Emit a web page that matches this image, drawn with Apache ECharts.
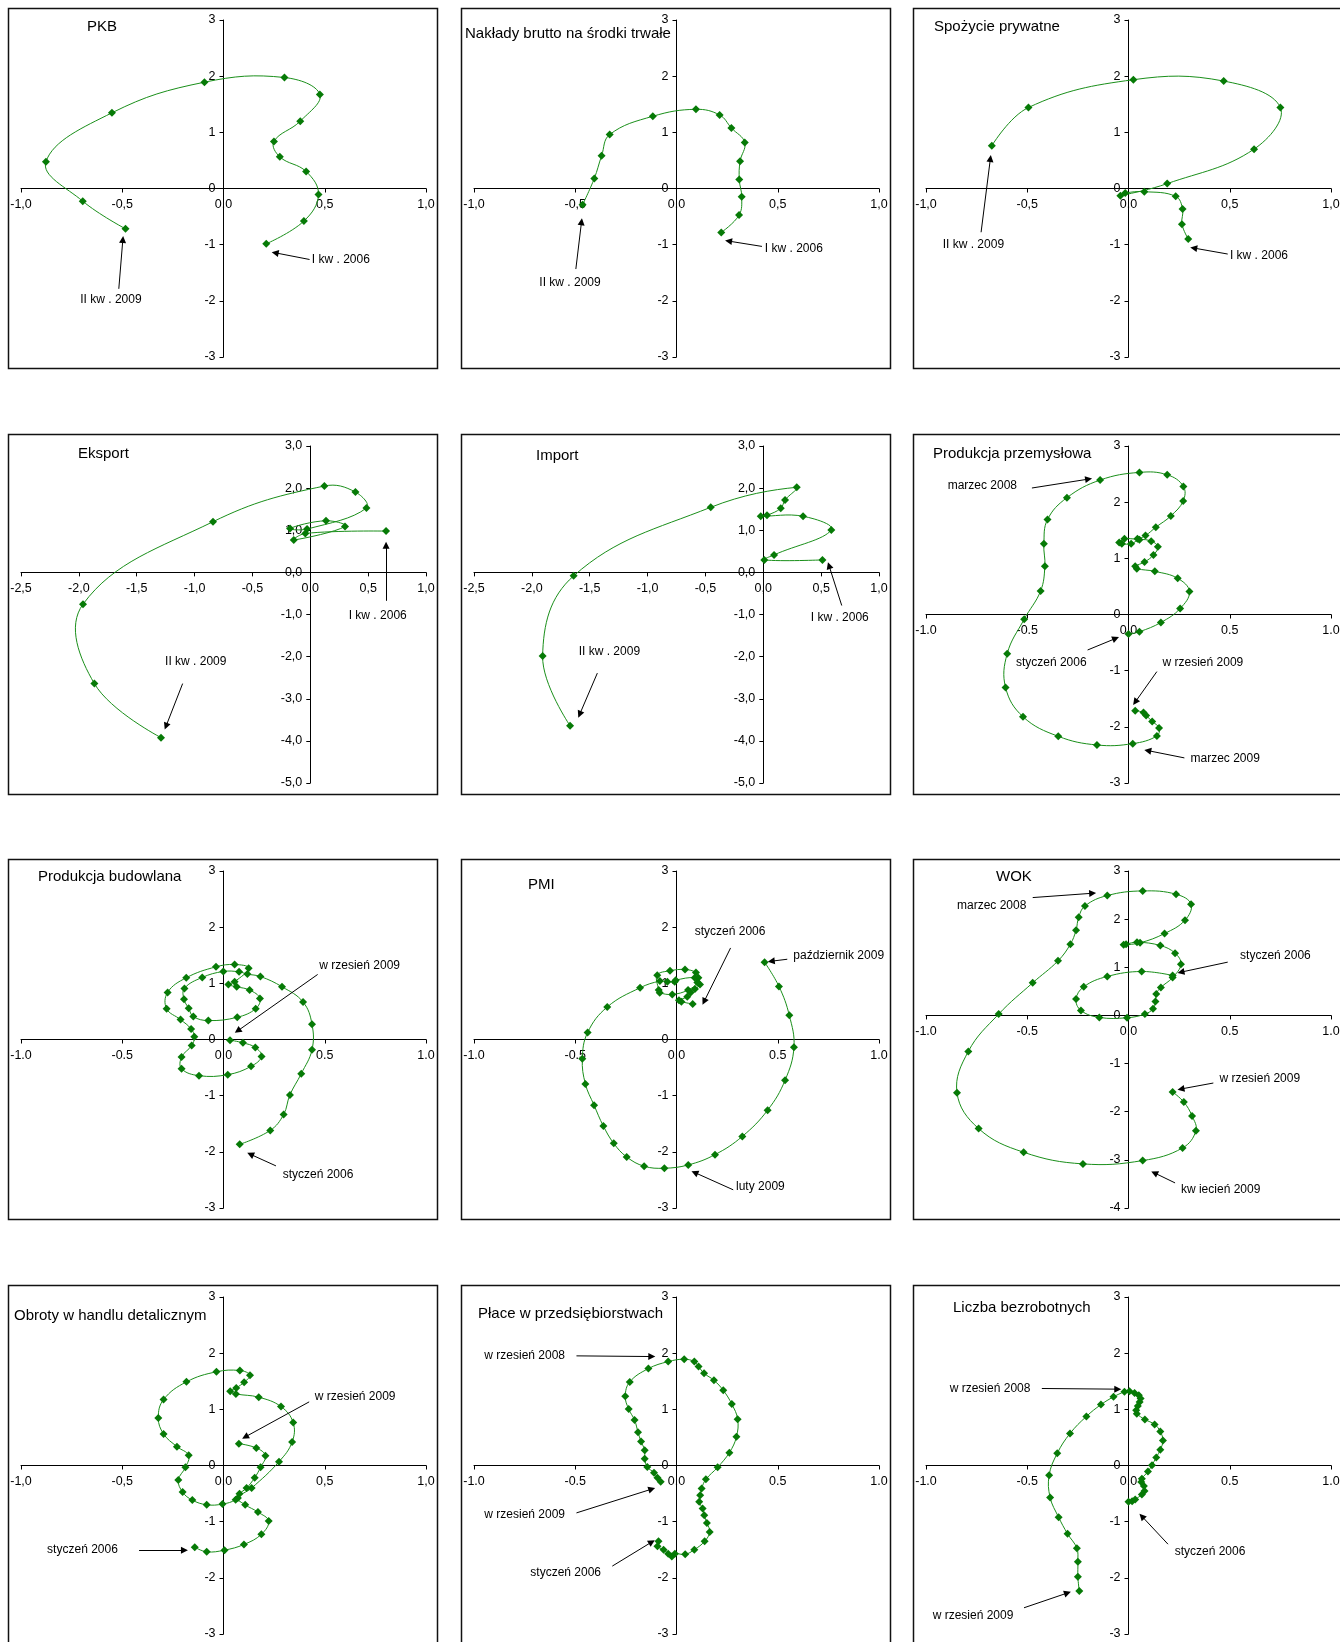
<!DOCTYPE html>
<html>
<head>
<meta charset="utf-8">
<script src="https://cdn.jsdelivr.net/npm/echarts@6/dist/echarts.min.js"></script>
<style>
  html, body { margin: 0; padding: 0; background: #fff; }
  #chart { width: 1340px; height: 1642px; }
</style>
</head>
<body>
<div id="chart"></div>
<script>
// Each series: [change of cyclical component, cyclical component], in time order.
const pkb = [[0.211,-0.985],[0.397,-0.58],[0.469,-0.107],[0.408,0.303],[0.278,0.564],[0.249,0.837],[0.379,1.199],[0.476,1.674],[0.301,1.976],[-0.094,1.893],[-0.551,1.347],[-0.877,0.475],[-0.695,-0.226],[-0.484,-0.718]];
const naklady = [[0.221,-0.782],[0.309,-0.474],[0.322,-0.148],[0.310,0.160],[0.314,0.486],[0.337,0.818],[0.271,1.078],[0.213,1.309],[0.096,1.410],[-0.117,1.286],[-0.330,0.960],[-0.370,0.581],[-0.406,0.178],[-0.464,-0.290]];
const spozycie = [[0.295,-0.899],[0.264,-0.636],[0.267,-0.367],[0.233,-0.140],[0.078,-0.057],[-0.016,-0.081],[-0.040,-0.128],[0.191,0.087],[0.620,0.701],[0.750,1.442],[0.470,1.913],[0.024,1.937],[-0.494,1.442],[-0.675,0.761]];
const eksport = [[0.655,0.980],[-0.043,0.925],[-0.143,0.766],[0.300,1.091],[0.136,1.226],[-0.175,1.044],[-0.028,1.028],[0.485,1.527],[0.390,1.907],[0.122,2.050],[-0.841,1.202],[-1.964,-0.755],[-1.866,-2.640],[-1.290,-3.923]];
const importData = [[0.511,0.296],[0.009,0.296],[0.093,0.415],[0.588,1.008],[0.344,1.332],[-0.022,1.332],[0.032,1.356],[0.151,1.522],[0.188,1.719],[0.289,2.020],[-0.454,1.545],[-1.639,-0.083],[-1.907,-1.988],[-1.670,-3.640]];
const przemysl = [[0.000,-0.349],[0.054,-0.307],[0.160,-0.142],[0.255,0.106],[0.301,0.408],[0.243,0.644],[0.130,0.768],[0.041,0.816],[0.033,0.857],[0.079,0.934],[0.123,1.058],[0.145,1.206],[0.112,1.306],[0.054,1.330],[0.013,1.259],[-0.033,1.259],[-0.046,1.283],[-0.020,1.348],[0.044,1.348],[0.084,1.407],[0.135,1.554],[0.209,1.755],[0.270,2.021],[0.271,2.281],[0.191,2.488],[0.054,2.530],[-0.140,2.394],[-0.304,2.080],[-0.400,1.690],[-0.418,1.259],[-0.413,0.857],[-0.434,0.420],[-0.515,-0.083],[-0.599,-0.697],[-0.607,-1.300],[-0.521,-1.820],[-0.347,-2.169],[-0.156,-2.323],[0.021,-2.299],[0.140,-2.163],[0.151,-2.021],[0.117,-1.903],[0.087,-1.797],[0.074,-1.743],[0.033,-1.714]];
const budowlana = [[0.080,-1.867],[0.231,-1.618],[0.297,-1.335],[0.328,-0.986],[0.384,-0.608],[0.437,-0.183],[0.437,0.272],[0.393,0.667],[0.289,0.939],[0.182,1.122],[0.118,1.164],[0.077,1.205],[-0.001,1.211],[-0.105,1.105],[-0.193,0.910],[-0.195,0.715],[-0.172,0.555],[-0.149,0.408],[-0.075,0.337],[0.068,0.396],[0.159,0.549],[0.180,0.732],[0.129,0.880],[0.065,0.939],[0.024,0.980],[0.055,1.028],[0.124,1.270],[0.055,1.335],[-0.037,1.294],[-0.184,1.099],[-0.276,0.839],[-0.281,0.549],[-0.212,0.354],[-0.160,0.189],[-0.144,0.047],[-0.157,-0.106],[-0.207,-0.313],[-0.207,-0.520],[-0.121,-0.644],[0.021,-0.626],[0.136,-0.478],[0.188,-0.301],[0.157,-0.142],[0.096,-0.059],[0.032,-0.012]];
const pmi = [[0.080,0.632],[0.024,0.673],[0.012,0.697],[0.053,0.762],[0.070,0.839],[0.091,0.898],[0.116,0.981],[0.108,1.099],[0.096,1.193],[0.042,1.246],[-0.032,1.223],[-0.095,1.146],[-0.088,0.880],[-0.083,0.833],[-0.021,0.803],[0.057,0.880],[0.103,1.016],[0.090,1.099],[-0.004,1.057],[-0.009,1.028],[-0.045,1.028],[-0.082,1.040],[-0.180,0.921],[-0.342,0.579],[-0.439,0.124],[-0.465,-0.343],[-0.450,-0.791],[-0.407,-1.170],[-0.361,-1.542],[-0.310,-1.849],[-0.246,-2.091],[-0.160,-2.256],[-0.060,-2.292],[0.058,-2.233],[0.190,-2.050],[0.325,-1.725],[0.450,-1.258],[0.536,-0.727],[0.580,-0.136],[0.557,0.431],[0.506,0.945],[0.435,1.376]];
const wok = [[0.218,0.830],[0.065,0.913],[-0.105,0.809],[-0.221,0.595],[-0.259,0.339],[-0.235,0.104],[-0.144,-0.041],[-0.007,-0.048],[0.081,0.028],[0.121,0.138],[0.133,0.290],[0.137,0.443],[0.160,0.581],[0.218,0.788],[0.259,1.065],[0.230,1.293],[0.157,1.452],[0.042,1.521],[-0.012,1.480],[-0.024,1.466],[0.057,1.508],[0.178,1.701],[0.279,1.978],[0.309,2.310],[0.235,2.517],[0.070,2.586],[-0.105,2.490],[-0.215,2.275],[-0.246,2.040],[-0.259,1.770],[-0.287,1.480],[-0.348,1.134],[-0.473,0.678],[-0.641,0.028],[-0.791,-0.747],[-0.847,-1.604],[-0.740,-2.351],[-0.518,-2.842],[-0.225,-3.084],[0.070,-3.015],[0.267,-2.752],[0.333,-2.393],[0.314,-2.089],[0.273,-1.798],[0.218,-1.591]];
const obroty = [[-0.142,-1.454],[-0.083,-1.537],[0.005,-1.507],[0.101,-1.406],[0.187,-1.225],[0.223,-0.990],[0.170,-0.829],[0.107,-0.699],[0.071,-0.580],[0.139,-0.401],[0.274,0.068],[0.339,0.419],[0.344,0.764],[0.284,1.049],[0.174,1.216],[0.061,1.275],[0.033,1.323],[0.063,1.382],[0.102,1.483],[0.131,1.608],[0.081,1.691],[-0.035,1.668],[-0.183,1.489],[-0.296,1.174],[-0.322,0.847],[-0.296,0.562],[-0.230,0.336],[-0.172,0.181],[-0.188,-0.033],[-0.223,-0.259],[-0.202,-0.473],[-0.154,-0.616],[-0.083,-0.699],[-0.005,-0.687],[0.060,-0.609],[0.079,-0.502],[0.114,-0.401],[0.154,-0.217],[0.183,-0.033],[0.207,0.175],[0.162,0.312],[0.076,0.389]];
const place = [[-0.089,-1.350],[-0.094,-1.439],[-0.064,-1.499],[-0.041,-1.570],[-0.023,-1.618],[-0.008,-1.570],[0.043,-1.582],[0.088,-1.499],[0.139,-1.350],[0.164,-1.183],[0.150,-1.022],[0.137,-0.885],[0.129,-0.766],[0.112,-0.647],[0.117,-0.528],[0.124,-0.408],[0.145,-0.247],[0.203,-0.033],[0.261,0.229],[0.296,0.510],[0.302,0.825],[0.273,1.094],[0.231,1.338],[0.185,1.517],[0.136,1.642],[0.109,1.761],[0.088,1.850],[0.038,1.892],[-0.041,1.850],[-0.139,1.725],[-0.231,1.487],[-0.253,1.231],[-0.236,1.004],[-0.207,0.808],[-0.190,0.593],[-0.175,0.426],[-0.157,0.271],[-0.157,0.122],[-0.144,-0.027],[-0.111,-0.128],[-0.094,-0.218],[-0.078,-0.289]];
const bezrobotni = [[0.000,-0.647],[0.018,-0.635],[0.033,-0.605],[0.066,-0.515],[0.079,-0.455],[0.076,-0.365],[0.063,-0.293],[0.066,-0.234],[0.096,-0.108],[0.116,0.006],[0.137,0.144],[0.157,0.281],[0.170,0.443],[0.157,0.605],[0.129,0.731],[0.081,0.820],[0.041,0.922],[0.038,0.982],[0.046,1.060],[0.055,1.132],[0.060,1.192],[0.051,1.251],[0.030,1.293],[0.005,1.323],[-0.020,1.311],[-0.074,1.222],[-0.136,1.084],[-0.208,0.874],[-0.289,0.569],[-0.352,0.216],[-0.392,-0.174],[-0.387,-0.569],[-0.345,-0.922],[-0.301,-1.216],[-0.255,-1.473],[-0.250,-1.713],[-0.250,-1.982],[-0.243,-2.234]];

// Axis ranges: [min, max, step]
const unitX = [-1, 1, 0.5];
const unitY = [-3, 3, 1];
const tradeX = [-2.5, 1, 0.5];
const tradeY = [-5, 3, 1];
const wokY = [-4, 3, 1];

const FONT = '"Liberation Sans", Arial, sans-serif';

// Panels, row by row. Title offset is relative to the panel frame.
const panels = [
  { title: 'PKB', tx: 79, ty: 19, data: pkb, x: unitX, y: unitY, xd: 1, yd: 0, sep: ',',
    notes: [{ text: 'I kw . 2006', at: [0.436, -1.276] }, { text: 'II kw . 2009', at: [-0.556, -1.988], align: 'center' }],
    arrows: [[0.425, -1.264, 0.255, -1.145], [-0.517, -1.786, -0.497, -0.908]] },
  { title: 'Nakłady brutto na środki trwałe', tx: 4, ty: 26, data: naklady, x: unitX, y: unitY, xd: 1, yd: 0, sep: ',',
    notes: [{ text: 'I kw . 2006', at: [0.436, -1.066] }, { text: 'II kw . 2009', at: [-0.526, -1.671], align: 'center' }],
    arrows: [[0.422, -1.031, 0.257, -0.936], [-0.497, -1.434, -0.469, -0.592]] },
  { title: 'Spożycie prywatne', tx: 21, ty: 19, data: spozycie, x: unitX, y: unitY, xd: 1, yd: 0, sep: ',',
    notes: [{ text: 'I kw . 2006', at: [0.501, -1.197] }, { text: 'II kw . 2009', at: [-0.766, -1.006], align: 'center' }],
    arrows: [[0.490, -1.167, 0.322, -1.060], [-0.728, -0.779, -0.682, 0.534]] },
  { title: 'Eksport', tx: 70, ty: 20, data: eksport, x: tradeX, y: tradeY, xd: 1, yd: 1, sep: ',',
    notes: [{ text: 'I kw . 2006', at: [0.332, -1.032] }, { text: 'II kw . 2009', at: [-0.990, -2.125], align: 'center' }],
    arrows: [[0.655, -0.675, 0.655, 0.646], [-1.103, -2.640, -1.247, -3.653]] },
  { title: 'Import', tx: 75, ty: 22, data: importData, x: tradeX, y: tradeY, xd: 1, yd: 1, sep: ',',
    notes: [{ text: 'I kw . 2006', at: [0.410, -1.087] }, { text: 'II kw . 2009', at: [-1.330, -1.893], align: 'center' }],
    arrows: [[0.678, -0.787, 0.568, 0.162], [-1.434, -2.391, -1.587, -3.372]] },
  { title: 'Produkcja przemysłowa', tx: 20, ty: 20, data: przemysl, x: unitX, y: unitY, xd: 1, yd: 0, sep: '.',
    notes: [{ text: 'marzec 2008', at: [-0.893, 2.293] }, { text: 'styczeń 2006', at: [-0.556, -0.857] },
            { text: 'w rzesień 2009', at: [0.168, -0.857] }, { text: 'marzec 2009', at: [0.306, -2.565] }],
    arrows: [[-0.477, 2.252, -0.197, 2.411], [-0.202, -0.632, -0.063, -0.426], [0.140, -1.017, 0.033, -1.560], [0.276, -2.553, 0.095, -2.423]] },
  { title: 'Produkcja budowlana', tx: 30, ty: 18, data: budowlana, x: unitX, y: unitY, xd: 1, yd: 0, sep: '.',
    notes: [{ text: 'w rzesień 2009', at: [0.473, 1.323] }, { text: 'styczeń 2006', at: [0.292, -2.398] }],
    arrows: [[0.465, 1.158, 0.070, 0.154], [0.259, -2.250, 0.133, -2.044]] },
  { title: 'PMI', tx: 67, ty: 26, data: pmi, x: unitX, y: unitY, xd: 1, yd: 0, sep: '.',
    notes: [{ text: 'styczeń 2006', at: [0.090, 1.926] }, { text: 'październik 2009', at: [0.577, 1.500] }, { text: 'luty 2009', at: [0.294, -2.617] }],
    arrows: [[0.267, 1.630, 0.136, 0.673], [0.547, 1.429, 0.468, 1.394], [0.280, -2.676, 0.090, -2.369]] },
  { title: 'WOK', tx: 83, ty: 18, data: wok, x: unitX, y: wokY, xd: 1, yd: 0, sep: '.',
    notes: [{ text: 'marzec 2008', at: [-0.847, 2.282] }, { text: 'styczeń 2006', at: [0.551, 1.245] },
            { text: 'w rzesień 2009', at: [0.449, -1.321] }, { text: 'kw iecień 2009', at: [0.259, -3.617] }],
    arrows: [[-0.473, 2.448, -0.177, 2.538], [0.490, 1.107, 0.259, 0.899], [0.419, -1.404, 0.259, -1.528], [0.230, -3.479, 0.128, -3.271]] },
  { title: 'Obroty w handlu detalicznym', tx: 6, ty: 31, data: obroty, x: unitX, y: unitY, xd: 1, yd: 0, sep: ',',
    notes: [{ text: 'w rzesień 2009', at: [0.451, 1.222] }, { text: 'styczeń 2006', at: [-0.871, -1.507] }],
    arrows: [[0.423, 1.133, 0.107, 0.508], [-0.417, -1.507, -0.193, -1.507]] },
  { title: 'Płace w przedsiębiorstwach', tx: 17, ty: 29, data: place, x: unitX, y: unitY, xd: 1, yd: 0, sep: '.',
    notes: [{ text: 'w rzesień 2008', at: [-0.949, 1.952] }, { text: 'w rzesień 2009', at: [-0.949, -0.874] }, { text: 'styczeń 2006', at: [-0.722, -1.910] }],
    arrows: [[-0.494, 1.952, -0.122, 1.940], [-0.494, -0.844, -0.122, -0.420], [-0.317, -1.791, -0.122, -1.362]] },
  { title: 'Liczba bezrobotnych', tx: 40, ty: 23, data: bezrobotni, x: unitX, y: unitY, xd: 1, yd: 0, sep: '.',
    notes: [{ text: 'w rzesień 2008', at: [-0.883, 1.371] }, { text: 'styczeń 2006', at: [0.228, -1.539] }, { text: 'w rzesień 2009', at: [-0.967, -2.671] }],
    arrows: [[-0.428, 1.371, -0.053, 1.359], [0.195, -1.401, 0.066, -0.904], [-0.516, -2.533, -0.301, -2.269]] }
];

// Panel frames and plot areas
const COL = [8, 461, 913];
const ROW = [8, 434, 859, 1285];
const PW = 429, PH = 360;
const INSET_L = 13, INSET_T = 12, GW = 405, GH = 337;

const LINE_COLOR = '#1a8f1a', MARK_COLOR = '#067a06';

const grids = [], xAxes = [], yAxes = [], series = [];
const fmt = (d, sep) => v => v.toFixed(d).replace('.', sep);
// Shift an axis from the plot edge onto the other axis' zero.
const zeroShift = (range, size) => -size * (0 - range[0]) / (range[1] - range[0]);

panels.forEach((p, i) => {
  const L = COL[i % 3], T = ROW[Math.floor(i / 3)];
  grids.push({ left: L + INSET_L, top: T + INSET_T, width: GW, height: GH, containLabel: false, outerBoundsMode: 'none' });
  xAxes.push({
    gridIndex: i, type: 'value', position: 'bottom', min: p.x[0], max: p.x[1], interval: p.x[2],
    offset: zeroShift(p.y, GH),
    axisLine: { onZero: false, lineStyle: { color: '#000', width: 1 } },
    axisTick: { show: true, length: 4, lineStyle: { color: '#000', width: 1 } },
    axisLabel: { formatter: fmt(p.xd, p.sep), color: '#000', fontSize: 12.5, fontFamily: FONT, margin: 10 },
    splitLine: { show: false }
  });
  yAxes.push({
    gridIndex: i, type: 'value', position: 'left', min: p.y[0], max: p.y[1], interval: p.y[2],
    offset: zeroShift(p.x, GW),
    axisLine: { onZero: false, lineStyle: { color: '#000', width: 1 } },
    axisTick: { show: true, length: 4, lineStyle: { color: '#000', width: 1 } },
    axisLabel: { formatter: fmt(p.yd, p.sep), color: '#000', fontSize: 12.5, fontFamily: FONT, margin: 8 },
    splitLine: { show: false }
  });
  // Smoothed trajectory (spline through the points, allowed to bow past them)
  series.push({
    type: 'custom', xAxisIndex: i, yAxisIndex: i, silent: true, z: 2,
    data: [p.data[0]],
    renderItem: (params, api) => ({
      type: 'polyline',
      shape: { points: p.data.map(d => api.coord(d)), smooth: 0.4 },
      style: { stroke: LINE_COLOR, lineWidth: 1, fill: null }
    })
  });
  // Monthly / quarterly observations and the date arrows
  series.push({
    type: 'scatter', xAxisIndex: i, yAxisIndex: i, data: p.data, z: 3,
    symbol: 'diamond', symbolSize: 8, silent: true,
    itemStyle: { color: MARK_COLOR, opacity: 1 },
    markLine: {
      silent: true, symbol: ['none', 'triangle'], symbolSize: 7,
      lineStyle: { color: '#000', width: 1, type: 'solid', opacity: 1 },
      label: { show: false },
      data: p.arrows.map(a => [{ coord: [a[0], a[1]] }, { coord: [a[2], a[3]] }])
    }
  });
});

const chart = echarts.init(document.getElementById('chart'), null, { renderer: 'canvas' });
chart.setOption({
  animation: false,
  backgroundColor: '#fff',
  grid: grids, xAxis: xAxes, yAxis: yAxes, series: series
});

// Frames, panel titles and date notes
const gfx = [];
panels.forEach((p, i) => {
  const L = COL[i % 3], T = ROW[Math.floor(i / 3)];
  gfx.push({ type: 'rect', silent: true, shape: { x: L + 0.5, y: T + 0.5, width: PW, height: PH },
             style: { fill: 'none', stroke: '#111', lineWidth: 1.5 } });
  gfx.push({ type: 'text', silent: true, x: L + p.tx, y: T + p.ty,
             style: { text: p.title, font: '15px ' + FONT, fill: '#000', textAlign: 'left', textVerticalAlign: 'middle' } });
  p.notes.forEach(n => {
    const pt = chart.convertToPixel({ gridIndex: i }, n.at);
    gfx.push({ type: 'text', silent: true, x: pt[0], y: pt[1],
               style: { text: n.text, font: '12px ' + FONT, fill: '#000', textAlign: n.align || 'left', textVerticalAlign: 'middle' } });
  });
});
chart.setOption({ graphic: gfx });
</script>
</body>
</html>
